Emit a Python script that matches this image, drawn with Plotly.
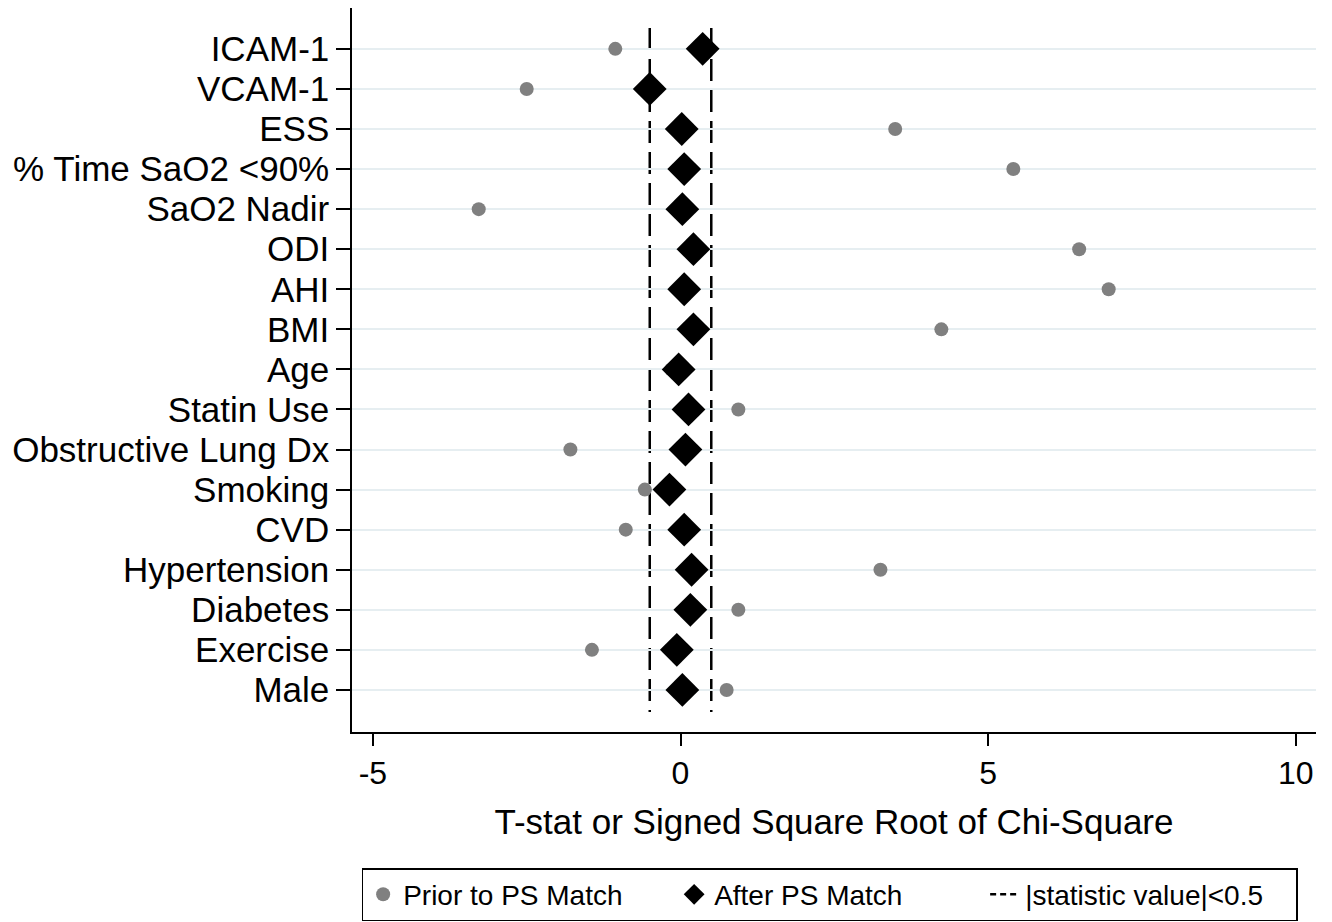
import plotly.graph_objects as go

categories = ["ICAM-1", "VCAM-1", "ESS", "% Time SaO2 <90%", "SaO2 Nadir", "ODI", "AHI",
              "BMI", "Age", "Statin Use", "Obstructive Lung Dx", "Smoking", "CVD",
              "Hypertension", "Diabetes", "Exercise", "Male"]
prior = [-1.06, -2.50, 3.49, 5.41, -3.28, 6.48, 6.96, 4.24, -0.15, 0.94, -1.79, -0.58,
         -0.89, 3.25, 0.94, -1.44, 0.75]
after = [0.36, -0.50, 0.02, 0.06, 0.03, 0.21, 0.06, 0.21, -0.03, 0.13, 0.08, -0.18,
         0.06, 0.18, 0.16, -0.06, 0.03]
threshold = 0.5
x_ticks = [-5, 0, 5, 10]

ypos = list(range(len(categories)))
font = "Liberation Sans, Arial, sans-serif"

fig = go.Figure()
fig.add_trace(go.Scatter(x=prior, y=ypos, mode="markers", name="Prior to PS Match",
                         marker=dict(symbol="circle", size=14, color="#808080")))
fig.add_trace(go.Scatter(x=after, y=ypos, mode="markers", name="After PS Match",
                         marker=dict(symbol="diamond", size=26, color="black")))
fig.add_trace(go.Scatter(x=[None], y=[None], mode="lines", name="|statistic value|<0.5",
                         line=dict(color="black", width=2.5, dash="6px,4px")))
for v in (-threshold, threshold):
    fig.add_shape(type="line", x0=v, x1=v, y0=-0.52, y1=len(categories) - 0.45,
                  xref="x", yref="y", line=dict(color="black", width=2.5, dash="22px,9px"),
                  layer="below")

# page body has an 8px default margin, so size the figure to fit the window
fig.update_layout(
    width=1324, height=914,
    margin=dict(l=344, r=16, t=0, b=190, autoexpand=False),
    paper_bgcolor="white", plot_bgcolor="white",
    font=dict(family=font, size=31, color="black"),
    showlegend=True,
    legend=dict(orientation="h", x=0.01, xanchor="left", y=-0.188, yanchor="top",
                bordercolor="black", borderwidth=1.5, font=dict(size=28),
                entrywidth=266, tracegroupgap=0),
)
fig.update_xaxes(range=[-5.34, 10.33], tickvals=x_ticks, ticktext=[str(t) for t in x_ticks],
                 showgrid=False, zeroline=False, showline=True, linecolor="black", linewidth=1.5,
                 ticks="outside", ticklen=12, tickwidth=1.5, tickcolor="black",
                 title=dict(text="T-stat or Signed Square Root of Chi-Square", standoff=19,
                            font=dict(size=35)),
                 tickfont=dict(size=32), automargin=False)
fig.update_yaxes(range=[len(categories) + 0.05, -1.02], tickvals=ypos, ticktext=categories,
                 showgrid=True, gridcolor="#e6eef1", gridwidth=2, zeroline=False,
                 showline=True, linecolor="black", linewidth=1.5,
                 ticks="outside", ticklen=14, tickwidth=1.5, tickcolor="black",
                 tickfont=dict(size=35), automargin=False)

fig.write_html("out.html")
